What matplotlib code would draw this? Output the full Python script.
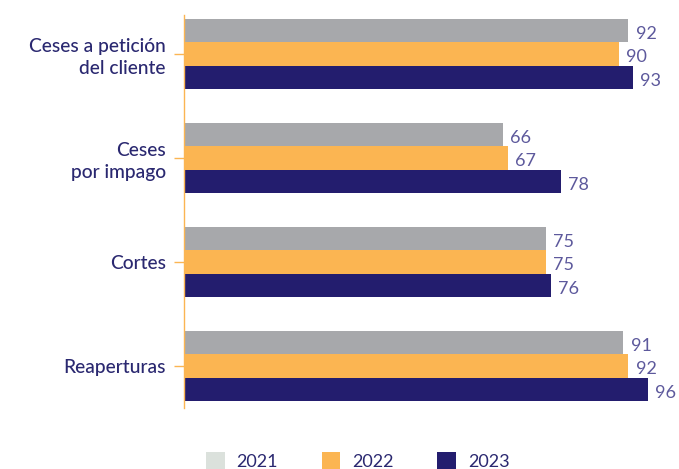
import matplotlib.pyplot as plt
from matplotlib.patches import Patch

categories = ["Ceses a petición\ndel cliente", "Ceses\npor impago", "Cortes", "Reaperturas"]
years = ["2021", "2022", "2023"]
v2021 = [92, 66, 75, 91]
v2022 = [90, 67, 75, 92]
v2023 = [93, 78, 76, 96]

bar_colors = ["#a7a8ab", "#fbb552", "#231d6e"]
legend_colors = ["#dbe1dc", "#fbb552", "#231d6e"]
navy = "#2a2870"
label_col = "#5d599c"

plt.rcParams['font.family'] = ['Lato', 'DejaVu Sans']

fig = plt.figure(figsize=(6.79, 4.69), dpi=100)
ax = fig.add_axes([184 / 679, 1 - 408 / 469, 1 - 184 / 679, (408 - 15) / 469])

h = 0.226
for i, vals in enumerate([v2021, v2022, v2023]):
    ys = [k + (i - 1) * h for k in range(len(categories))]
    ax.barh(ys, vals, height=h, color=bar_colors[i], left=0)
    for y, v in zip(ys, vals):
        ax.text(v + 1.5, y + 0.03, str(v), va='center', ha='left',
                fontsize=13, color=label_col)

ax.set_xlim(0, 102.5)
ax.set_ylim(3.404, -0.375)
ax.set_yticks(range(len(categories)))
ax.set_yticklabels(categories, fontsize=13.8, color=navy, linespacing=1.3,
                   fontweight='medium')
ax.tick_params(axis='y', length=7, width=1, color="#fbb552", pad=6)
ax.set_xticks([])
for s in ["top", "right", "bottom"]:
    ax.spines[s].set_visible(False)
ax.spines["left"].set_color("#fbb552")
ax.spines["left"].set_linewidth(1)

handles = [Patch(facecolor=c, edgecolor='none') for c in legend_colors]
leg = fig.legend(handles, years, loc='upper left', ncol=3,
                 bbox_to_anchor=(206 / 679, 1 - 452 / 469),
                 frameon=False, fontsize=13, handlelength=1.05, handleheight=1.05,
                 handletextpad=0.65, columnspacing=2.4, borderpad=0, borderaxespad=0)
for t in leg.get_texts():
    t.set_color(navy)

fig.savefig("out.png", dpi=100)
